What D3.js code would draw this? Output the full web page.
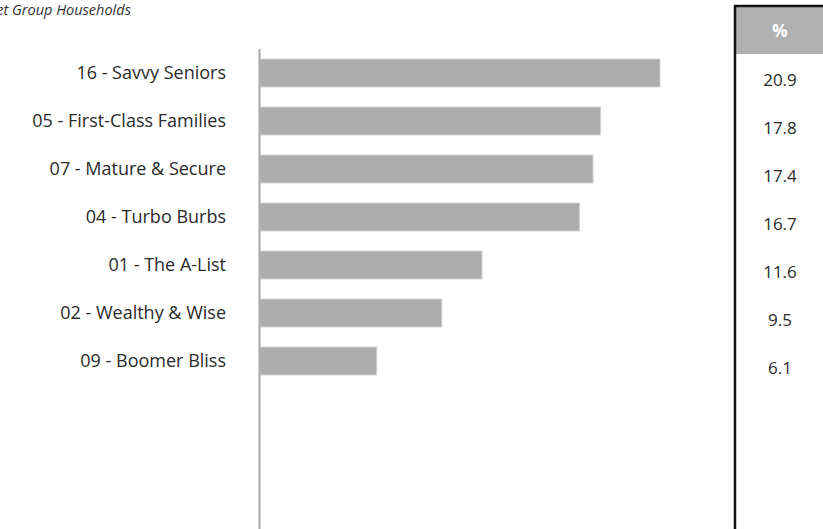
<!DOCTYPE html>
<html><head><meta charset="utf-8">
<script src="https://cdn.jsdelivr.net/npm/d3@7"></script>
<style>html,body{margin:0;padding:0;background:#fff;overflow:hidden}</style>
</head><body>
<svg id="c" width="823" height="529"></svg>
<script>
const titleText = "Target Group Households";
const categories = ["16 - Savvy Seniors","05 - First-Class Families","07 - Mature & Secure","04 - Turbo Burbs","01 - The A-List","02 - Wealthy & Wise","09 - Boomer Bliss"];
const values = [20.9,17.8,17.4,16.7,11.6,9.5,6.1];
const valueLabels = ["20.9","17.8","17.4","16.7","11.6","9.5","6.1"];
const tableHeader = "%";
const slots = 10;

const svg = d3.select("#c");
const font = "'Open Sans', 'Noto Sans', sans-serif";

const title = svg.append("text").attr("y", 15)
  .attr("font-family", font).attr("font-style","italic").attr("font-size", 14.5)
  .attr("fill", "#333").text(titleText);
const prefixLen = title.node().getSubStringLength(0, 7);
title.attr("x", 12 - prefixLen);

const x = d3.scaleLinear().domain([0, 20.9]).range([260, 660]);
const y = d3.scaleBand().domain(d3.range(slots)).range([49, 529]).paddingInner(0.4167).paddingOuter(0.2083);

svg.selectAll("rect.bar").data(values).join("rect").attr("class","bar")
  .attr("x", x(0)).attr("y", (d,i)=>y(i))
  .attr("width", d=>x(d)-x(0)).attr("height", y.bandwidth())
  .attr("fill", "#acacac").attr("stroke", "#d4d4d4").attr("stroke-width", 1);

svg.append("line").attr("x1", 259.5).attr("x2", 259.5).attr("y1", 49).attr("y2", 529)
  .attr("stroke", "#a8a8a8").attr("stroke-width", 2);

svg.selectAll("text.cat").data(categories).join("text").attr("class","cat")
  .attr("x", 226).attr("y", (d,i)=>y(i)+y.bandwidth()/2)
  .attr("dy", "0.35em").attr("text-anchor","end")
  .attr("font-family", font).attr("font-size", 18).attr("fill", "#2b2b2b")
  .text(d=>d);

// table
svg.append("rect").attr("x", 736).attr("y", 7).attr("width", 100).attr("height", 47).attr("fill", "#b0b0b0");
svg.append("line").attr("x1", 734).attr("x2", 834).attr("y1", 6).attr("y2", 6).attr("stroke", "#111").attr("stroke-width", 2.5);
svg.append("line").attr("x1", 735).attr("x2", 735).attr("y1", 5).attr("y2", 529).attr("stroke", "#111").attr("stroke-width", 2.5);
svg.append("text").attr("x", 780).attr("y", 31).attr("dy","0.35em").attr("text-anchor","middle")
  .attr("font-family", font).attr("font-weight", 700).attr("font-size", 17).attr("fill", "#fff").text(tableHeader);

svg.selectAll("text.val").data(valueLabels).join("text").attr("class","val")
  .attr("x", 780).attr("y", (d,i)=>y(i)+y.bandwidth()/2+7)
  .attr("dy","0.35em").attr("text-anchor","middle")
  .attr("font-family", font).attr("font-size", 17).attr("fill", "#2b2b2b")
  .text(d=>d);
</script>
</body></html>
